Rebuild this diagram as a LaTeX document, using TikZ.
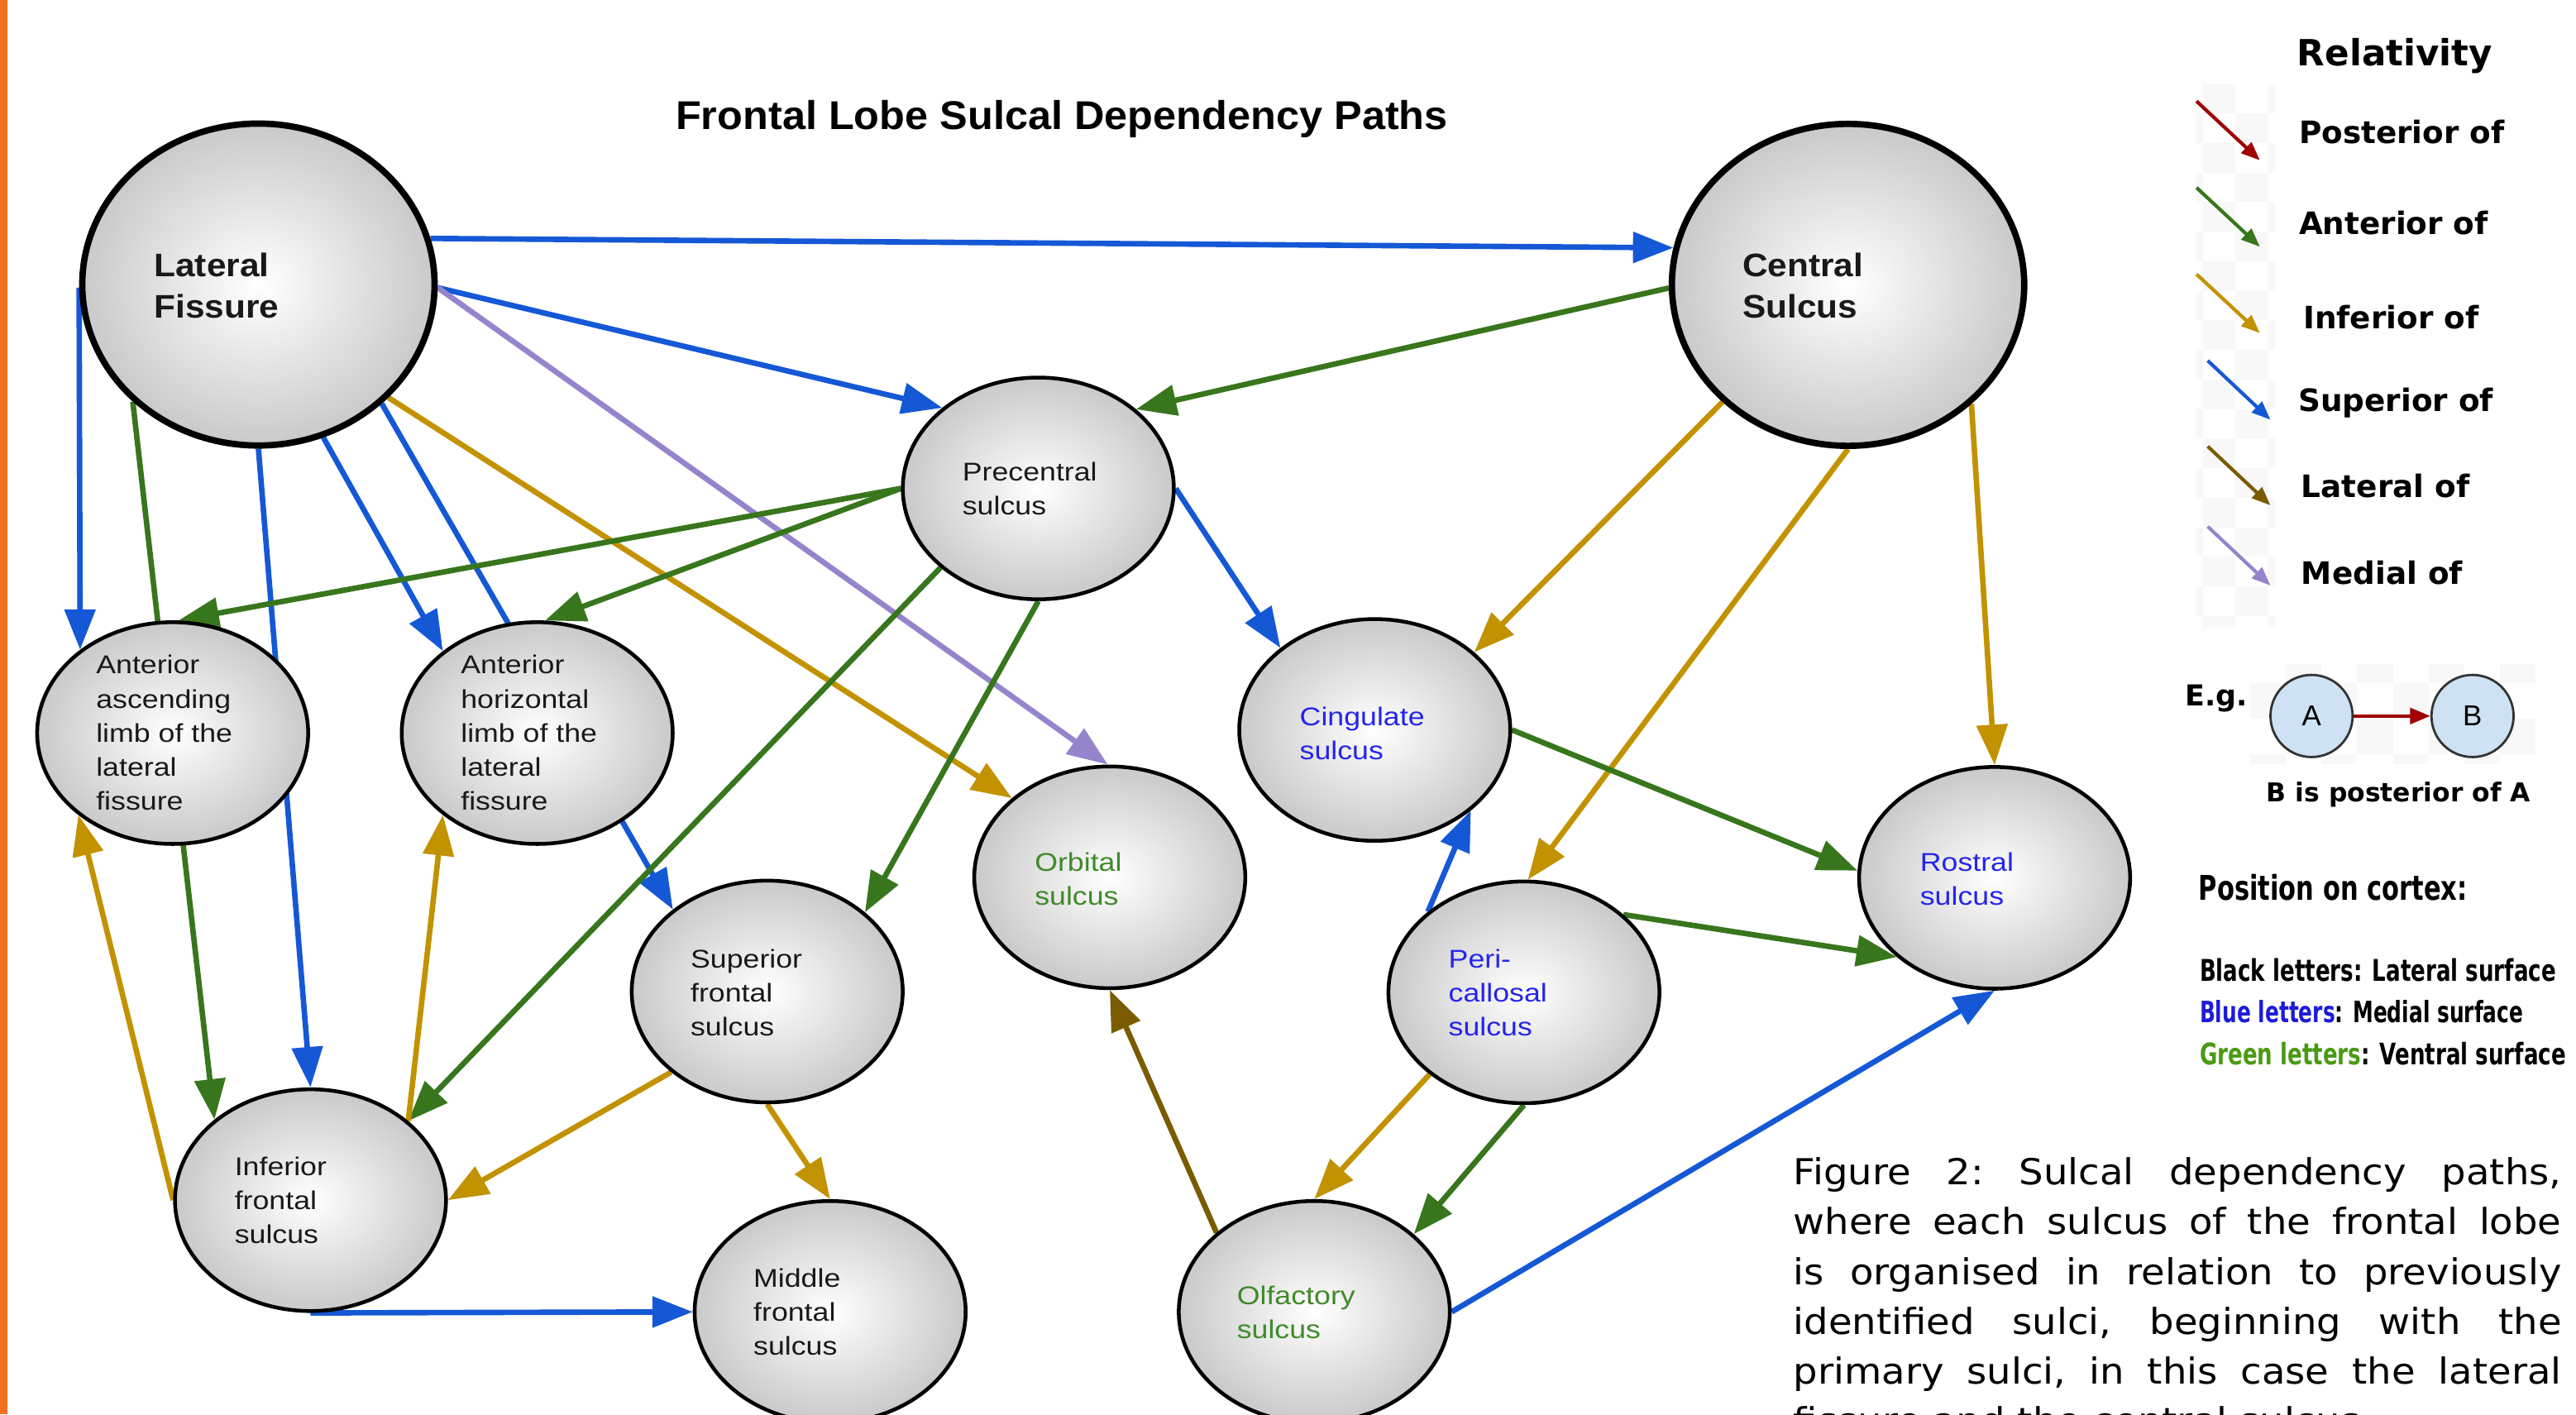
\documentclass[tikz,border=0pt]{standalone}
\usepackage{fontspec}
\usepackage{graphicx}
\setmainfont{Liberation Sans}
\newfontfamily\djv{DejaVu Sans}
\usetikzlibrary{arrows.meta,shapes.geometric,backgrounds}
\definecolor{cblue}{HTML}{1558D6}
\definecolor{cgreen}{HTML}{38761D}
\definecolor{cgold}{HTML}{C29200}
\definecolor{cbrown}{HTML}{7A5C00}
\definecolor{cpurple}{HTML}{9584CC}
\definecolor{cred}{HTML}{A00000}
\definecolor{labblue}{HTML}{2424EE}
\definecolor{labgreen}{HTML}{3F8A2A}
\definecolor{legblue}{HTML}{1C1CD8}
\definecolor{leggreen}{HTML}{4A9A12}
\definecolor{obar}{HTML}{F37021}
\definecolor{egfill}{HTML}{CFE2F3}
\definecolor{chk}{HTML}{F8F8F8}
\newcommand{\lbl}[2]{\scalebox{#1}[1]{\begin{tabular}[t]{@{}l@{}}#2\end{tabular}}}
\begin{document}
\begin{tikzpicture}[x=0.02cm, y=-0.02cm,
  sul/.style={ellipse, draw=black, inner sep=0pt, inner color=white, outer color=black!21},
  bigsul/.style={sul, line width=2.2pt, minimum width=4.29cm, minimum height=3.92cm},
  smsul/.style={sul, line width=1.3pt, minimum width=3.30cm, minimum height=2.70cm},
  conn/.style={line width=1.9pt, -{Triangle[length=14pt,width=10.5pt]}},
  legarr/.style={line width=1.2pt, -{Triangle[length=6.5pt,width=5pt]}},
  biglab/.style={anchor=base west, inner sep=0pt, font=\bfseries\fontsize{11.3}{14.3}\selectfont, text=black!90},
  smlab/.style={anchor=base west, inner sep=0pt, font=\fontsize{8.9}{11.8}\selectfont, text=black!90},
  legtxt/.style={anchor=base west, inner sep=0pt, font=\djv\bfseries\fontsize{10.7}{12}\selectfont},
  sqtxt/.style={anchor=base west, inner sep=0pt, font=\djv\bfseries\fontsize{10}{12}\selectfont},
]
\useasboundingbox (0,0) rectangle (1568,861);
% orange bar
\fill[obar] (0,0) rectangle (4.5,861);

% faint checkerboard behind legend arrows
\begin{scope}
\clip (1337,51) rectangle (1385,382.5);
\foreach \j in {0,...,18}{
  \pgfmathtruncatemacro\off{mod(\j+1,2)}
  \foreach \i in {0,1}{
    \fill[chk] ({1321.5+19.5*(2*\i+\off)},{51+18*\j}) rectangle +(19.5,18);
  }
}
\end{scope}
\begin{scope}
\clip (1369.8,404.3) rectangle (1543.5,464.7);
\foreach \j in {0,...,3}{
  \pgfmathtruncatemacro\off{mod(\j,2)}
  \foreach \i in {0,...,4}{
    \fill[chk] ({1348+21.7*(2*\i+\off)},{394+21.7*\j}) rectangle +(21.7,21.7);
  }
}
\end{scope}

% sulcus nodes
\node[bigsul] (LF) at (157.3,173.2) {};
\node[bigsul] (CS) at (1124.9,173.4) {};
\node[smsul] (PC) at (632,297.3) {};
\node[smsul] (AAL) at (105.1,446.2) {};
\node[smsul] (AHL) at (327,446.2) {};
\node[smsul] (CG) at (836.8,444.3) {};
\node[smsul] (OR) at (675.5,534) {};
\node[smsul] (RO) at (1214.1,534.3) {};
\node[smsul] (SF) at (467,603.5) {};
\node[smsul] (PE) at (927.6,604) {};
\node[smsul] (IF) at (189,730.5) {};
\node[smsul] (MF) at (505.3,798.5) {};
\node[smsul] (OL) at (800,798.5) {};

% connectors (behind nodes)
\begin{scope}[on background layer]
\draw[conn,cblue] (LF.15) -- (CS.168);
\draw[conn,cblue] (LF.-1) -- (PC.140.6);
\draw[conn,cpurple] (LF.-1) -- (OR.91.6);
\draw[conn,cgold] (LF.-41) -- (OR.141.6);
\draw[conn,cblue] (LF.181) -- (AAL.138);
\draw[conn,cgreen] (LF.-137.7) -- (IF.140.7);
\draw[conn,cblue] (LF.-90) -- (IF.90);
\draw[conn,cblue] (LF.-67.2) -- (AHL.139.2);
\draw[conn,cblue] (LF.-44) -- (SF.139.5);
\draw[conn,cgreen] (PC.180) -- (AAL.87.5);
\draw[conn,cgreen] (PC.180) -- (AHL.86.6);
\draw[conn,cgreen] (CS.181) -- (PC.39.3);
\draw[conn,cblue] (PC.-0.5) -- (CG.139.7);
\draw[conn,cgreen] (PC.-141) -- (IF.39.2);
\draw[conn,cgreen] (PC.-90) -- (SF.39.3);
\draw[conn,cgold] (CS.-137.3) -- (CG.38.7);
\draw[conn,cgold] (CS.-90) -- (PE.88.7);
\draw[conn,cgold] (CS.-44.2) -- (RO.90);
\draw[conn,cgreen] (CG.0) -- (RO.177);
\draw[conn,cgreen] (PE.38.2) -- (RO.-141.9);
\draw[conn,cblue] (PE.140.4) -- (CG.-40.3);
\draw[conn,cgold] (PE.-139.4) -- (OL.90.8);
\draw[conn,cgreen] (PE.-90.8) -- (OL.38.7);
\draw[conn,cbrown] (OL.141.3) -- (OR.-90);
\draw[conn,cblue] (OL.0) -- (RO.-90);
\draw[conn,cgold] (SF.-140.7) -- (IF.0.7);
\draw[conn,cgold] (SF.-90) -- (MF.90);
\draw[conn,cblue] (IF.-90) -- (MF.180);
\draw[conn,cgold] (IF.180) -- (AAL.-139.7);
\draw[conn,cgold] (IF.39.2) -- (AHL.-139.9);
\end{scope}

% node labels
\node[biglab] (LFt) at (93.5,168.6) {\lbl{1.075}{Lateral\\Fissure}};
\node[biglab] (CSt) at (1060.3,168.6) {\lbl{1.075}{Central\\Sulcus}};
\node[smlab] (PCt) at (585.5,292.7) {\lbl{1.15}{Precentral\\sulcus}};
\node[smlab] (AALt) at (58.2,410.2) {\lbl{1.15}{Anterior\\ascending\\limb of the\\lateral\\fissure}};
\node[smlab] (AHLt) at (280.2,410.2) {\lbl{1.15}{Anterior\\horizontal\\limb of the\\lateral\\fissure}};
\node[smlab,text=labblue] (CGt) at (790.8,441.8) {\lbl{1.15}{Cingulate\\sulcus}};
\node[smlab,text=labgreen] (ORt) at (629.5,530.4) {\lbl{1.15}{Orbital\\sulcus}};
\node[smlab,text=labblue] (ROt) at (1168.4,530.4) {\lbl{1.15}{Rostral\\sulcus}};
\node[smlab] (SFt) at (420,589) {\lbl{1.15}{Superior\\frontal\\sulcus}};
\node[smlab,text=labblue] (PEt) at (881.4,589) {\lbl{1.15}{Peri-\\callosal\\sulcus}};
\node[smlab] (IFt) at (142.5,715.5) {\lbl{1.15}{Inferior\\frontal\\sulcus}};
\node[smlab] (MFt) at (458.3,783.4) {\lbl{1.15}{Middle\\frontal\\sulcus}};
\node[smlab,text=labgreen] (OLt) at (752.6,794) {\lbl{1.15}{Olfactory\\sulcus}};

% title
\node[anchor=base, inner sep=0pt, font=\bfseries\fontsize{13.9}{16}\selectfont] (title) at (646.3,78.8) {\scalebox{1.04}[1]{Frontal Lobe Sulcal Dependency Paths}};

% legend
\node[anchor=base, inner sep=0pt, font=\djv\bfseries\fontsize{12.5}{14}\selectfont] (relt) at (1457.7,39.8) {Relativity};
\node[legtxt] (l1) at (1399,87.3) {Posterior of};
\node[legtxt] (l2) at (1399,142.5) {Anterior of};
\node[legtxt] (l3) at (1401.6,200.3) {Inferior of};
\node[legtxt] (l4) at (1398.7,250.3) {Superior of};
\node[legtxt] (l5) at (1400.5,303) {Lateral of};
\node[legtxt] (l6) at (1400.5,355.6) {Medial of};
\coordinate (a1) at (1337,61.6);   \coordinate (b1) at (1375.6,97.6);
\coordinate (a2) at (1337,114.2);  \coordinate (b2) at (1375.6,150.2);
\coordinate (a3) at (1337,166.9);  \coordinate (b3) at (1375.6,202.8);
\coordinate (a4) at (1343.8,219.5); \coordinate (b4) at (1382,255.5);
\coordinate (a5) at (1343.8,271.7); \coordinate (b5) at (1382,307.6);
\coordinate (a6) at (1343.8,320.5); \coordinate (b6) at (1382,356.4);
\draw[legarr,cred] (a1) -- (b1);
\draw[legarr,cgreen] (a2) -- (b2);
\draw[legarr,cgold] (a3) -- (b3);
\draw[legarr,cblue] (a4) -- (b4);
\draw[legarr,cbrown] (a5) -- (b5);
\draw[legarr,cpurple] (a6) -- (b6);

% example
\node[sqtxt] (eg) at (1329.8,429.8) {E.g.};
\node[circle, draw=black!80, fill=egfill, minimum size=1.0cm, inner sep=0pt, line width=0.8pt, font=\fontsize{10}{12}\selectfont] (A) at (1407,435.8) {A};
\node[circle, draw=black!80, fill=egfill, minimum size=1.0cm, inner sep=0pt, line width=0.8pt, font=\fontsize{10}{12}\selectfont] (B) at (1505,435.8) {B};
\draw[line width=1.1pt, cred, -{Triangle[length=7pt,width=5.5pt]}] (A) -- (B);
\node[anchor=base, inner sep=0pt, font=\djv\bfseries\fontsize{9}{11}\selectfont] (egt) at (1460,488.2) {B is posterior of A};

% position on cortex
\node[anchor=base west, inner sep=0pt, font=\djv\bfseries] (pos) at (1338,547.7) {\resizebox{3.27cm}{0.315cm}{Position on cortex:}};
\node[anchor=base west, inner sep=0pt, font=\djv\bfseries] (blk) at (1338.6,597.2) {\resizebox{4.34cm}{0.277cm}{Black letters: Lateral surface}};
\node[anchor=base west, inner sep=0pt, font=\djv\bfseries] (blu) at (1338.6,622.4) {\resizebox{3.94cm}{0.272cm}{\textcolor{legblue}{Blue letters}: Medial surface}};
\node[anchor=base west, inner sep=0pt, font=\djv\bfseries] (grn) at (1338.6,648.2) {\resizebox{4.46cm}{0.275cm}{\textcolor{leggreen}{Green letters}: Ventral surface}};

% caption
\node[anchor=base west, inner sep=0pt] (cap) at (1091.3,721.3) {\scalebox{1.075}[1]{\parbox[t]{8.70cm}{\djv\fontsize{12.4}{17.2}\selectfont\frenchspacing\tolerance=10000\hyphenpenalty=10000 Figure 2: Sulcal dependency paths,\linebreak where each sulcus of the frontal lobe\linebreak is organised in relation to previously\linebreak identified sulci, beginning with the\linebreak primary sulci, in this case the lateral\linebreak fissure and the central sulcus.}}};
\end{tikzpicture}
\end{document}
